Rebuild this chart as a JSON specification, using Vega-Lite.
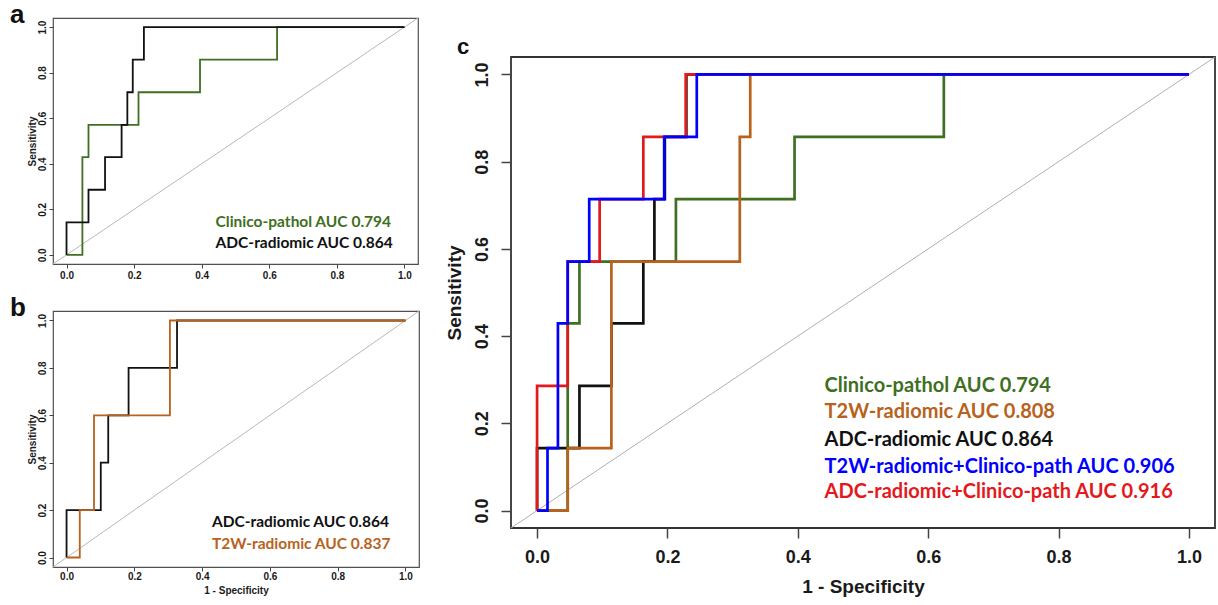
{
  "$schema": "https://vega.github.io/schema/vega-lite/v6.json",
  "background": "white",
  "padding": {"left": 9, "top": 0, "right": 0, "bottom": 0},
  "spacing": 23,
  "config": {
    "axis": {"domain": false, "grid": false, "labelFont": "Liberation Sans", "labelFontWeight": "bold", "labelColor": "#1a1a1a", "titleFont": "Liberation Sans", "titleFontWeight": "bold", "titleColor": "#1a1a1a", "tickColor": "#444444", "tickWidth": 1, "labelFlush": false, "labelOverlap": false},
    "title": {"font": "Liberation Sans", "fontWeight": "bold", "color": "#111111"}
  },
  "datasets": {
    "curves": [
      {"panel": "a", "model": "Clinico-pathol", "i": 0, "x": 0, "y": 0},
      {"panel": "a", "model": "Clinico-pathol", "i": 1, "x": 0.047, "y": 0},
      {"panel": "a", "model": "Clinico-pathol", "i": 2, "x": 0.047, "y": 0.429},
      {"panel": "a", "model": "Clinico-pathol", "i": 3, "x": 0.065, "y": 0.429},
      {"panel": "a", "model": "Clinico-pathol", "i": 4, "x": 0.065, "y": 0.571},
      {"panel": "a", "model": "Clinico-pathol", "i": 5, "x": 0.213, "y": 0.571},
      {"panel": "a", "model": "Clinico-pathol", "i": 6, "x": 0.213, "y": 0.714},
      {"panel": "a", "model": "Clinico-pathol", "i": 7, "x": 0.395, "y": 0.714},
      {"panel": "a", "model": "Clinico-pathol", "i": 8, "x": 0.395, "y": 0.857},
      {"panel": "a", "model": "Clinico-pathol", "i": 9, "x": 0.623, "y": 0.857},
      {"panel": "a", "model": "Clinico-pathol", "i": 10, "x": 0.623, "y": 1},
      {"panel": "a", "model": "Clinico-pathol", "i": 11, "x": 1, "y": 1},
      {"panel": "a", "model": "ADC-radiomic", "i": 0, "x": 0, "y": 0},
      {"panel": "a", "model": "ADC-radiomic", "i": 1, "x": 0, "y": 0.143},
      {"panel": "a", "model": "ADC-radiomic", "i": 2, "x": 0.065, "y": 0.143},
      {"panel": "a", "model": "ADC-radiomic", "i": 3, "x": 0.065, "y": 0.286},
      {"panel": "a", "model": "ADC-radiomic", "i": 4, "x": 0.114, "y": 0.286},
      {"panel": "a", "model": "ADC-radiomic", "i": 5, "x": 0.114, "y": 0.429},
      {"panel": "a", "model": "ADC-radiomic", "i": 6, "x": 0.163, "y": 0.429},
      {"panel": "a", "model": "ADC-radiomic", "i": 7, "x": 0.163, "y": 0.571},
      {"panel": "a", "model": "ADC-radiomic", "i": 8, "x": 0.18, "y": 0.571},
      {"panel": "a", "model": "ADC-radiomic", "i": 9, "x": 0.18, "y": 0.714},
      {"panel": "a", "model": "ADC-radiomic", "i": 10, "x": 0.196, "y": 0.714},
      {"panel": "a", "model": "ADC-radiomic", "i": 11, "x": 0.196, "y": 0.857},
      {"panel": "a", "model": "ADC-radiomic", "i": 12, "x": 0.229, "y": 0.857},
      {"panel": "a", "model": "ADC-radiomic", "i": 13, "x": 0.229, "y": 1},
      {"panel": "a", "model": "ADC-radiomic", "i": 14, "x": 1, "y": 1},

      {"panel": "b", "model": "ADC-radiomic", "i": 0, "x": 0, "y": 0},
      {"panel": "b", "model": "ADC-radiomic", "i": 1, "x": 0, "y": 0.2},
      {"panel": "b", "model": "ADC-radiomic", "i": 2, "x": 0.101, "y": 0.2},
      {"panel": "b", "model": "ADC-radiomic", "i": 3, "x": 0.101, "y": 0.4},
      {"panel": "b", "model": "ADC-radiomic", "i": 4, "x": 0.123, "y": 0.4},
      {"panel": "b", "model": "ADC-radiomic", "i": 5, "x": 0.123, "y": 0.6},
      {"panel": "b", "model": "ADC-radiomic", "i": 6, "x": 0.183, "y": 0.6},
      {"panel": "b", "model": "ADC-radiomic", "i": 7, "x": 0.183, "y": 0.8},
      {"panel": "b", "model": "ADC-radiomic", "i": 8, "x": 0.326, "y": 0.8},
      {"panel": "b", "model": "ADC-radiomic", "i": 9, "x": 0.326, "y": 1},
      {"panel": "b", "model": "ADC-radiomic", "i": 10, "x": 1, "y": 1},
      {"panel": "b", "model": "T2W-radiomic", "i": 0, "x": 0, "y": 0},
      {"panel": "b", "model": "T2W-radiomic", "i": 1, "x": 0.039, "y": 0},
      {"panel": "b", "model": "T2W-radiomic", "i": 2, "x": 0.039, "y": 0.2},
      {"panel": "b", "model": "T2W-radiomic", "i": 3, "x": 0.081, "y": 0.2},
      {"panel": "b", "model": "T2W-radiomic", "i": 4, "x": 0.081, "y": 0.6},
      {"panel": "b", "model": "T2W-radiomic", "i": 5, "x": 0.305, "y": 0.6},
      {"panel": "b", "model": "T2W-radiomic", "i": 6, "x": 0.305, "y": 1},
      {"panel": "b", "model": "T2W-radiomic", "i": 7, "x": 1, "y": 1},

      {"panel": "c", "model": "Clinico-pathol", "i": 0, "x": 0, "y": 0},
      {"panel": "c", "model": "Clinico-pathol", "i": 1, "x": 0.047, "y": 0},
      {"panel": "c", "model": "Clinico-pathol", "i": 2, "x": 0.047, "y": 0.429},
      {"panel": "c", "model": "Clinico-pathol", "i": 3, "x": 0.065, "y": 0.429},
      {"panel": "c", "model": "Clinico-pathol", "i": 4, "x": 0.065, "y": 0.571},
      {"panel": "c", "model": "Clinico-pathol", "i": 5, "x": 0.213, "y": 0.571},
      {"panel": "c", "model": "Clinico-pathol", "i": 6, "x": 0.213, "y": 0.714},
      {"panel": "c", "model": "Clinico-pathol", "i": 7, "x": 0.395, "y": 0.714},
      {"panel": "c", "model": "Clinico-pathol", "i": 8, "x": 0.395, "y": 0.857},
      {"panel": "c", "model": "Clinico-pathol", "i": 9, "x": 0.624, "y": 0.857},
      {"panel": "c", "model": "Clinico-pathol", "i": 10, "x": 0.624, "y": 1},
      {"panel": "c", "model": "Clinico-pathol", "i": 11, "x": 1, "y": 1},
      {"panel": "c", "model": "ADC-radiomic", "i": 0, "x": 0, "y": 0},
      {"panel": "c", "model": "ADC-radiomic", "i": 1, "x": 0, "y": 0.143},
      {"panel": "c", "model": "ADC-radiomic", "i": 2, "x": 0.065, "y": 0.143},
      {"panel": "c", "model": "ADC-radiomic", "i": 3, "x": 0.065, "y": 0.286},
      {"panel": "c", "model": "ADC-radiomic", "i": 4, "x": 0.114, "y": 0.286},
      {"panel": "c", "model": "ADC-radiomic", "i": 5, "x": 0.114, "y": 0.429},
      {"panel": "c", "model": "ADC-radiomic", "i": 6, "x": 0.163, "y": 0.429},
      {"panel": "c", "model": "ADC-radiomic", "i": 7, "x": 0.163, "y": 0.571},
      {"panel": "c", "model": "ADC-radiomic", "i": 8, "x": 0.18, "y": 0.571},
      {"panel": "c", "model": "ADC-radiomic", "i": 9, "x": 0.18, "y": 0.714},
      {"panel": "c", "model": "ADC-radiomic", "i": 10, "x": 0.196, "y": 0.714},
      {"panel": "c", "model": "ADC-radiomic", "i": 11, "x": 0.196, "y": 0.857},
      {"panel": "c", "model": "ADC-radiomic", "i": 12, "x": 0.229, "y": 0.857},
      {"panel": "c", "model": "ADC-radiomic", "i": 13, "x": 0.229, "y": 1},
      {"panel": "c", "model": "ADC-radiomic", "i": 14, "x": 1, "y": 1},
      {"panel": "c", "model": "T2W-radiomic", "i": 0, "x": 0, "y": 0},
      {"panel": "c", "model": "T2W-radiomic", "i": 1, "x": 0.047, "y": 0},
      {"panel": "c", "model": "T2W-radiomic", "i": 2, "x": 0.047, "y": 0.143},
      {"panel": "c", "model": "T2W-radiomic", "i": 3, "x": 0.114, "y": 0.143},
      {"panel": "c", "model": "T2W-radiomic", "i": 4, "x": 0.114, "y": 0.571},
      {"panel": "c", "model": "T2W-radiomic", "i": 5, "x": 0.311, "y": 0.571},
      {"panel": "c", "model": "T2W-radiomic", "i": 6, "x": 0.311, "y": 0.857},
      {"panel": "c", "model": "T2W-radiomic", "i": 7, "x": 0.327, "y": 0.857},
      {"panel": "c", "model": "T2W-radiomic", "i": 8, "x": 0.327, "y": 1},
      {"panel": "c", "model": "T2W-radiomic", "i": 9, "x": 1, "y": 1},
      {"panel": "c", "model": "ADC-radiomic+Clinico-path", "i": 0, "x": 0, "y": 0},
      {"panel": "c", "model": "ADC-radiomic+Clinico-path", "i": 1, "x": 0, "y": 0.286},
      {"panel": "c", "model": "ADC-radiomic+Clinico-path", "i": 2, "x": 0.047, "y": 0.286},
      {"panel": "c", "model": "ADC-radiomic+Clinico-path", "i": 3, "x": 0.047, "y": 0.571},
      {"panel": "c", "model": "ADC-radiomic+Clinico-path", "i": 4, "x": 0.096, "y": 0.571},
      {"panel": "c", "model": "ADC-radiomic+Clinico-path", "i": 5, "x": 0.096, "y": 0.714},
      {"panel": "c", "model": "ADC-radiomic+Clinico-path", "i": 6, "x": 0.163, "y": 0.714},
      {"panel": "c", "model": "ADC-radiomic+Clinico-path", "i": 7, "x": 0.163, "y": 0.857},
      {"panel": "c", "model": "ADC-radiomic+Clinico-path", "i": 8, "x": 0.228, "y": 0.857},
      {"panel": "c", "model": "ADC-radiomic+Clinico-path", "i": 9, "x": 0.228, "y": 1},
      {"panel": "c", "model": "ADC-radiomic+Clinico-path", "i": 10, "x": 1, "y": 1},
      {"panel": "c", "model": "T2W-radiomic+Clinico-path", "i": 0, "x": 0, "y": 0},
      {"panel": "c", "model": "T2W-radiomic+Clinico-path", "i": 1, "x": 0.016, "y": 0},
      {"panel": "c", "model": "T2W-radiomic+Clinico-path", "i": 2, "x": 0.016, "y": 0.143},
      {"panel": "c", "model": "T2W-radiomic+Clinico-path", "i": 3, "x": 0.032, "y": 0.143},
      {"panel": "c", "model": "T2W-radiomic+Clinico-path", "i": 4, "x": 0.032, "y": 0.429},
      {"panel": "c", "model": "T2W-radiomic+Clinico-path", "i": 5, "x": 0.047, "y": 0.429},
      {"panel": "c", "model": "T2W-radiomic+Clinico-path", "i": 6, "x": 0.047, "y": 0.571},
      {"panel": "c", "model": "T2W-radiomic+Clinico-path", "i": 7, "x": 0.08, "y": 0.571},
      {"panel": "c", "model": "T2W-radiomic+Clinico-path", "i": 8, "x": 0.08, "y": 0.714},
      {"panel": "c", "model": "T2W-radiomic+Clinico-path", "i": 9, "x": 0.195, "y": 0.714},
      {"panel": "c", "model": "T2W-radiomic+Clinico-path", "i": 10, "x": 0.195, "y": 0.857},
      {"panel": "c", "model": "T2W-radiomic+Clinico-path", "i": 11, "x": 0.245, "y": 0.857},
      {"panel": "c", "model": "T2W-radiomic+Clinico-path", "i": 12, "x": 0.245, "y": 1},
      {"panel": "c", "model": "T2W-radiomic+Clinico-path", "i": 13, "x": 1, "y": 1}
    ],
    "labels": [
      {"panel": "a", "model": "Clinico-pathol", "text": "Clinico-pathol AUC 0.794", "x": 0.441, "y": 0.143},
      {"panel": "a", "model": "ADC-radiomic", "text": "ADC-radiomic AUC 0.864", "x": 0.441, "y": 0.052},
      {"panel": "b", "model": "ADC-radiomic", "text": "ADC-radiomic AUC 0.864", "x": 0.429, "y": 0.149},
      {"panel": "b", "model": "T2W-radiomic", "text": "T2W-radiomic AUC 0.837", "x": 0.429, "y": 0.057},
      {"panel": "c", "model": "Clinico-pathol", "text": "Clinico-pathol AUC 0.794", "x": 0.441, "y": 0.286},
      {"panel": "c", "model": "T2W-radiomic", "text": "T2W-radiomic AUC 0.808", "x": 0.441, "y": 0.225},
      {"panel": "c", "model": "ADC-radiomic", "text": "ADC-radiomic AUC 0.864", "x": 0.441, "y": 0.162},
      {"panel": "c", "model": "T2W-radiomic+Clinico-path", "text": "T2W-radiomic+Clinico-path AUC 0.906", "x": 0.441, "y": 0.1},
      {"panel": "c", "model": "ADC-radiomic+Clinico-path", "text": "ADC-radiomic+Clinico-path AUC 0.916", "x": 0.441, "y": 0.042}
    ]
  },
  "hconcat": [
    {
      "spacing": 12,
      "vconcat": [
        {
          "width": 365, "height": 246,
          "view": {"stroke": "#505050", "strokeWidth": 1.2},
          "title": {"text": "a", "anchor": "start", "frame": "bounds", "fontSize": 26, "offset": -10, "dx": -17},
          "layer": [
            {
              "data": {"values": [{}]},
              "mark": {"type": "rule", "color": "#b8b8b8", "strokeWidth": 1},
              "encoding": {
                "x": {"datum": -0.04, "type": "quantitative", "scale": {"domain": [-0.04, 1.04], "nice": false, "zero": false}, "axis": {"values": [0, 0.2, 0.4, 0.6, 0.8, 1], "format": ".1f", "title": null, "labelFontSize": 10, "tickSize": 4, "labelPadding": 2}},
                "y": {"datum": -0.04, "type": "quantitative", "scale": {"domain": [-0.04, 1.04], "nice": false, "zero": false}, "axis": {"values": [0, 0.2, 0.4, 0.6, 0.8, 1], "format": ".1f", "title": "Sensitivity", "labelFontSize": 10, "labelAngle": 270, "labelAlign": "center", "labelBaseline": "bottom", "tickSize": 4, "labelPadding": 2, "titleFontSize": 10, "titlePadding": 0}},
                "x2": {"datum": 1.04},
                "y2": {"datum": 1.04}
              }
            },
            {
              "data": {"name": "curves"},
              "transform": [{"filter": "datum.panel === 'a'"}],
              "mark": {"type": "line", "strokeWidth": 1.8},
              "encoding": {
                "x": {"field": "x", "type": "quantitative", "scale": {"domain": [-0.04, 1.04], "nice": false, "zero": false}},
                "y": {"field": "y", "type": "quantitative", "scale": {"domain": [-0.04, 1.04], "nice": false, "zero": false}},
                "color": {"field": "model", "type": "nominal", "legend": null, "scale": {"domain": ["Clinico-pathol", "T2W-radiomic", "ADC-radiomic", "T2W-radiomic+Clinico-path", "ADC-radiomic+Clinico-path"], "range": ["#3f6f22", "#b8621d", "#111111", "#0000ff", "#e3191c"]}},
                "order": {"field": "i", "type": "quantitative"}
              }
            },
            {
              "data": {"name": "labels"},
              "transform": [{"filter": "datum.panel === 'a'"}],
              "mark": {"type": "text", "align": "left", "baseline": "middle", "font": "Lato", "fontWeight": "bold", "fontSize": 15.5},
              "encoding": {
                "x": {"field": "x", "type": "quantitative", "scale": {"domain": [-0.04, 1.04], "nice": false, "zero": false}},
                "y": {"field": "y", "type": "quantitative", "scale": {"domain": [-0.04, 1.04], "nice": false, "zero": false}},
                "text": {"field": "text"},
                "color": {"field": "model", "type": "nominal", "legend": null, "scale": {"domain": ["Clinico-pathol", "T2W-radiomic", "ADC-radiomic", "T2W-radiomic+Clinico-path", "ADC-radiomic+Clinico-path"], "range": ["#3f6f22", "#b8621d", "#111111", "#0000ff", "#e3191c"]}}
              }
            }
          ]
        },
        {
          "width": 366, "height": 256,
          "view": {"stroke": "#505050", "strokeWidth": 1.2},
          "title": {"text": "b", "anchor": "start", "frame": "bounds", "fontSize": 26, "offset": -10, "dx": -17},
          "layer": [
            {
              "data": {"values": [{}]},
              "mark": {"type": "rule", "color": "#b8b8b8", "strokeWidth": 1},
              "encoding": {
                "x": {"datum": -0.04, "type": "quantitative", "scale": {"domain": [-0.04, 1.04], "nice": false, "zero": false}, "axis": {"values": [0, 0.2, 0.4, 0.6, 0.8, 1], "format": ".1f", "title": "1 - Specificity", "labelFontSize": 10, "tickSize": 4, "labelPadding": 0, "titleFontSize": 10, "titlePadding": 4}},
                "y": {"datum": -0.04, "type": "quantitative", "scale": {"domain": [-0.04, 1.04], "nice": false, "zero": false}, "axis": {"values": [0, 0.2, 0.4, 0.6, 0.8, 1], "format": ".1f", "title": "Sensitivity", "labelFontSize": 10, "labelAngle": 270, "labelAlign": "center", "labelBaseline": "bottom", "tickSize": 4, "labelPadding": 2, "titleFontSize": 10, "titlePadding": 0}},
                "x2": {"datum": 1.04},
                "y2": {"datum": 1.04}
              }
            },
            {
              "data": {"name": "curves"},
              "transform": [{"filter": "datum.panel === 'b'"}],
              "mark": {"type": "line", "strokeWidth": 1.8},
              "encoding": {
                "x": {"field": "x", "type": "quantitative", "scale": {"domain": [-0.04, 1.04], "nice": false, "zero": false}},
                "y": {"field": "y", "type": "quantitative", "scale": {"domain": [-0.04, 1.04], "nice": false, "zero": false}},
                "color": {"field": "model", "type": "nominal", "legend": null, "scale": {"domain": ["Clinico-pathol", "T2W-radiomic", "ADC-radiomic", "T2W-radiomic+Clinico-path", "ADC-radiomic+Clinico-path"], "range": ["#3f6f22", "#b8621d", "#111111", "#0000ff", "#e3191c"]}},
                "order": {"field": "i", "type": "quantitative"}
              }
            },
            {
              "data": {"name": "labels"},
              "transform": [{"filter": "datum.panel === 'b'"}],
              "mark": {"type": "text", "align": "left", "baseline": "middle", "font": "Lato", "fontWeight": "bold", "fontSize": 15.5},
              "encoding": {
                "x": {"field": "x", "type": "quantitative", "scale": {"domain": [-0.04, 1.04], "nice": false, "zero": false}},
                "y": {"field": "y", "type": "quantitative", "scale": {"domain": [-0.04, 1.04], "nice": false, "zero": false}},
                "text": {"field": "text"},
                "color": {"field": "model", "type": "nominal", "legend": null, "scale": {"domain": ["Clinico-pathol", "T2W-radiomic", "ADC-radiomic", "T2W-radiomic+Clinico-path", "ADC-radiomic+Clinico-path"], "range": ["#3f6f22", "#b8621d", "#111111", "#0000ff", "#e3191c"]}}
              }
            }
          ]
        }
      ]
    },
    {
      "spacing": 0,
      "vconcat": [
        {
          "width": 1, "height": 16,
          "view": {"stroke": null},
          "data": {"values": []},
          "mark": "point",
          "encoding": {}
        },
        {
          "width": 704, "height": 471,
          "view": {"stroke": "#333333", "strokeWidth": 1.8},
          "title": {"text": "c", "anchor": "start", "frame": "bounds", "fontSize": 22, "offset": -2, "dx": 12},
          "layer": [
            {
              "data": {"values": [{}]},
              "mark": {"type": "rule", "color": "#b0b0b0", "strokeWidth": 1},
              "encoding": {
                "x": {"datum": -0.04, "type": "quantitative", "scale": {"domain": [-0.04, 1.04], "nice": false, "zero": false}, "axis": {"values": [0, 0.2, 0.4, 0.6, 0.8, 1], "format": ".1f", "title": "1 - Specificity", "labelFontSize": 18, "tickSize": 10, "tickWidth": 1.5, "labelPadding": 10, "titleFontSize": 19, "titlePadding": 11}},
                "y": {"datum": -0.04, "type": "quantitative", "scale": {"domain": [-0.04, 1.04], "nice": false, "zero": false}, "axis": {"values": [0, 0.2, 0.4, 0.6, 0.8, 1], "format": ".1f", "title": "Sensitivity", "labelFontSize": 18, "labelAngle": 270, "labelAlign": "center", "labelBaseline": "bottom", "tickSize": 10, "tickWidth": 1.5, "labelPadding": 10, "titleFontSize": 19, "titlePadding": 9}},
                "x2": {"datum": 1.04},
                "y2": {"datum": 1.04}
              }
            },
            {
              "data": {"name": "curves"},
              "transform": [{"filter": "datum.panel === 'c'"}],
              "mark": {"type": "line", "strokeWidth": 2.7},
              "encoding": {
                "x": {"field": "x", "type": "quantitative", "scale": {"domain": [-0.04, 1.04], "nice": false, "zero": false}},
                "y": {"field": "y", "type": "quantitative", "scale": {"domain": [-0.04, 1.04], "nice": false, "zero": false}},
                "color": {"field": "model", "type": "nominal", "legend": null, "scale": {"domain": ["Clinico-pathol", "T2W-radiomic", "ADC-radiomic", "T2W-radiomic+Clinico-path", "ADC-radiomic+Clinico-path"], "range": ["#3f6f22", "#b8621d", "#111111", "#0000ff", "#e3191c"]}},
                "order": {"field": "i", "type": "quantitative"}
              }
            },
            {
              "data": {"name": "labels"},
              "transform": [{"filter": "datum.panel === 'c'"}],
              "mark": {"type": "text", "align": "left", "baseline": "middle", "font": "Lato", "fontWeight": "bold", "fontSize": 20},
              "encoding": {
                "x": {"field": "x", "type": "quantitative", "scale": {"domain": [-0.04, 1.04], "nice": false, "zero": false}},
                "y": {"field": "y", "type": "quantitative", "scale": {"domain": [-0.04, 1.04], "nice": false, "zero": false}},
                "text": {"field": "text"},
                "color": {"field": "model", "type": "nominal", "legend": null, "scale": {"domain": ["Clinico-pathol", "T2W-radiomic", "ADC-radiomic", "T2W-radiomic+Clinico-path", "ADC-radiomic+Clinico-path"], "range": ["#3f6f22", "#b8621d", "#111111", "#0000ff", "#e3191c"]}}
              }
            }
          ]
        }
      ]
    }
  ]
}
